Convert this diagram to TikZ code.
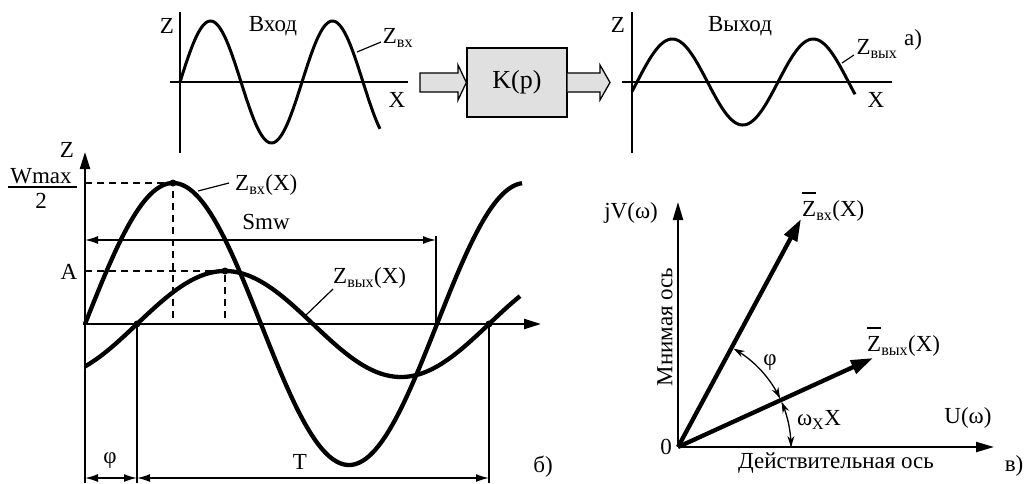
\documentclass[tikz,border=0pt]{standalone}
\usepackage{fontspec}
\setmainfont{Liberation Serif}
\usetikzlibrary{arrows.meta,calc}
\tikzset{
  curvetop/.style={line width=3pt},
  curvebig/.style={line width=4.3pt},
  axistop/.style={line width=1.4pt},
  axisbig/.style={line width=2.2pt},
  thinline/.style={line width=1.5pt},
  leader/.style={line width=1.2pt},
  dashline/.style={line width=1.3pt, dash pattern=on 7pt off 5pt},
  dimarrow/.style={thinline, {Latex[length=13pt,width=8pt]}-{Latex[length=13pt,width=8pt]}},
  arcarrow/.style={line width=1.3pt, {Stealth[length=11pt,width=7pt]}-{Stealth[length=11pt,width=7pt]}},
  lbls/.style={inner sep=0pt, font=\fontsize{23}{26}\selectfont},
  lblm/.style={inner sep=0pt, font=\fontsize{23}{26}\selectfont},
  lblb/.style={inner sep=0pt, font=\fontsize{23}{26}\selectfont},
  dot/.style={circle, fill=black, inner sep=0pt, minimum size=7pt},
  blockfill/.style={fill=black!12, line width=1.3pt},
}
\newcommand\zbarx{\rlap{\rule[0.98em]{0.58em}{0.07em}}Z}
\begin{document}
\begin{tikzpicture}[x=1pt,y=-1pt]
\useasboundingbox (0,0) rectangle (1027,483);

% ---------------- a) top-left: input ----------------
\coordinate (iAt) at (180,12);
\coordinate (iAb) at (180,153);
\coordinate (iHl) at (170,82);
\coordinate (iHr) at (408,82);
\draw[axistop] (iAt) -- (iAb);
\draw[axistop] (iHl) -- (iHr);
\draw[curvetop] plot[domain=180:380,samples=120] (\x,{82-61*sin(2.95082*(\x-180))});
\node[lbls] (zin) at (167,26) {Z};
\node[lbls] (vhod) at (273,26) {Вход};
\node[lbls] (zvx) at (398,38) {Z\textsubscript{вх}};
\node[lbls] (xin) at (397,100) {X};
\coordinate (lin1) at (357,52);
\coordinate (lin2) at (381,42);
\draw[leader] (lin1) -- (lin2);

% ---------------- block ----------------
\node[draw, blockfill, minimum width=100pt, minimum height=69pt, inner sep=0pt,
      font=\fontsize{26}{29}\selectfont] (K) at (517,82.5) {K(p)};
\draw[blockfill] (420,73) -- (458,73) -- (458,65) -- (K.west) -- (458,100) -- (458,92) -- (420,92) -- cycle;
\draw[blockfill] (K.east |- 0,73) -- (600,73) -- (600,65) -- (610,82.5) -- (600,100) -- (600,92) -- (K.east |- 0,92);

% ---------------- a) top-right: output ----------------
\coordinate (oAt) at (632,12);
\coordinate (oAb) at (632,153);
\coordinate (oHl) at (622,82);
\coordinate (oHr) at (892,82);
\draw[axistop] (oAt) -- (oAb);
\draw[axistop] (oHl) -- (oHr);
\draw[curvetop] plot[domain=632:855,samples=120] (\x,{82-43*sin(2.55319*(\x-637))});
\node[lbls] (zout) at (618,25) {Z};
\node[lbls] (vyhod) at (740,26) {Выход};
\node[lbls] (zvyx) at (877,49) {Z\textsubscript{вых}};
\node[lbls] (xout) at (876,100) {X};
\coordinate (lout1) at (842,63);
\coordinate (lout2) at (854,55);
\draw[leader] (lout1) -- (lout2);
\node[lblm] (la) at (913,40) {а)};

% ---------------- б) bottom-left ----------------
\coordinate (bO) at (85,324);
\coordinate (bAt) at (85,152);
\coordinate (bAb) at (85,483);
\coordinate (bHl) at (83,324);
\coordinate (bHr) at (541,324);
\draw[axisbig, -{Triangle[length=17pt,width=10pt]}] (bAb) -- (bAt);
\draw[axisbig, -{Triangle[length=17pt,width=10pt]}] (bHl) -- (bHr);
\draw[curvebig] plot[domain=85:522,samples=180] (\x,{324-141*sin(1.022727*(\x-85))});
\draw[curvebig] plot[domain=85:520,samples=180] (\x,{324-53*sin(1.022727*(\x-137))});

\node[dot] (pin) at (173,183) {};
\node[dot] (pout) at (225,271) {};
\node[dot] (c1) at (137,324) {};
\node[dot] (c2) at (489,324) {};
\coordinate (wl) at (85,183);
\coordinate (al) at (85,271);
\draw[dashline] (wl) -- (pin.center) -- (pin.center |- bO);
\draw[dashline] (al) -- (pout.center) -- (pout.center |- bO);

% Smw
\coordinate (sl) at (85,240);
\coordinate (sr) at (436,240);
\draw[dimarrow] (sl) -- (sr);
\draw[thinline] (436,236) -- (436,324);
\node[lblb] (smw) at (266,222) {Smw};

% verticals and dims
\coordinate (c1b) at (137,483);
\coordinate (c2b) at (489,483);
\draw[thinline] (c1.center) -- (c1b);
\draw[thinline] (c2.center) -- (c2b);
\coordinate (d0) at (85,478);
\coordinate (d1) at (137,478);
\coordinate (d2) at (489,478);
\draw[dimarrow] (d0) -- (d1);
\draw[dimarrow] (d1) -- (d2);
\node[lblm] (phiB) at (110,461) {φ};
\node[lblm] (TB) at (300,462) {T};
\node[lblm] (lb) at (543,467) {б)};

% labels
\node[lblm] (zB) at (67,150) {Z};
\node[lblm] (wmax) at (41,176) {Wmax};
\coordinate (fr1) at (8,187);
\coordinate (fr2) at (77,187);
\draw[line width=1.3pt] (fr1) -- (fr2);
\node[lblm] (two) at (41,201) {2};
\node[lblm] (Alab) at (69,272) {A};
\node[lblb, anchor=west] (zvxX) at (235,185) {Z\textsubscript{вх}(X)};
\node[lblb, anchor=west] (zvyxX) at (333,278) {Z\textsubscript{вых}(X)};
\coordinate (lb1) at (198,191);
\coordinate (lb2) at (229,183);
\draw[leader] (lb1) -- (lb2);
\coordinate (lc1) at (305,316);
\coordinate (lc2) at (333,289);
\draw[leader] (lc1) -- (lc2);

% ---------------- в) vector diagram ----------------
\coordinate (O) at (678,447);
\coordinate (Vt) at (678,202);
\coordinate (Ur) at (994,447);
\coordinate (Zin) at (801,219);
\coordinate (Zout) at (873,358);
\draw[axisbig, -{Triangle[length=18pt,width=10pt]}] (O) -- (Vt);
\draw[axisbig, -{Triangle[length=18pt,width=10pt]}] (O) -- (Ur);
\draw[line width=4.3pt, -{Triangle[length=22pt,width=14pt]}] (O) -- (Zin);
\draw[line width=4.3pt, -{Triangle[length=22pt,width=14pt]}] (O) -- (Zout);
\draw[arcarrow] plot[domain=60.5:25.5,samples=40] ({678+113*cos(\x)},{447-113*sin(\x)});
\draw[arcarrow] plot[domain=23.5:0,samples=40] ({678+113*cos(\x)},{447-113*sin(\x)});

\node[lblm, anchor=east] (jv) at (658,213) {jV(ω)};
\node[lblm, rotate=90] (mnim) at (665,327) {Мнимая ось};
\node[lblm] (zero) at (666,447) {0};
\node[lblm] (Uw) at (968,418) {U(ω)};
\node[lblm] (deist) at (836,463) {Действительная ось};
\node[lblm] (lv) at (1014,466) {в)};
\node[lblm, anchor=west] (zbin) at (802,207) {\zbarx\textsubscript{вх}(X)};
\node[lblm, anchor=west] (zbout) at (867,342) {\zbarx\textsubscript{вых}(X)};
\node[lblm] (phiV) at (770,363) {φ};
\node[lblm] (wx) at (819,420) {ω\textsubscript{X}X};
\end{tikzpicture}
\end{document}
